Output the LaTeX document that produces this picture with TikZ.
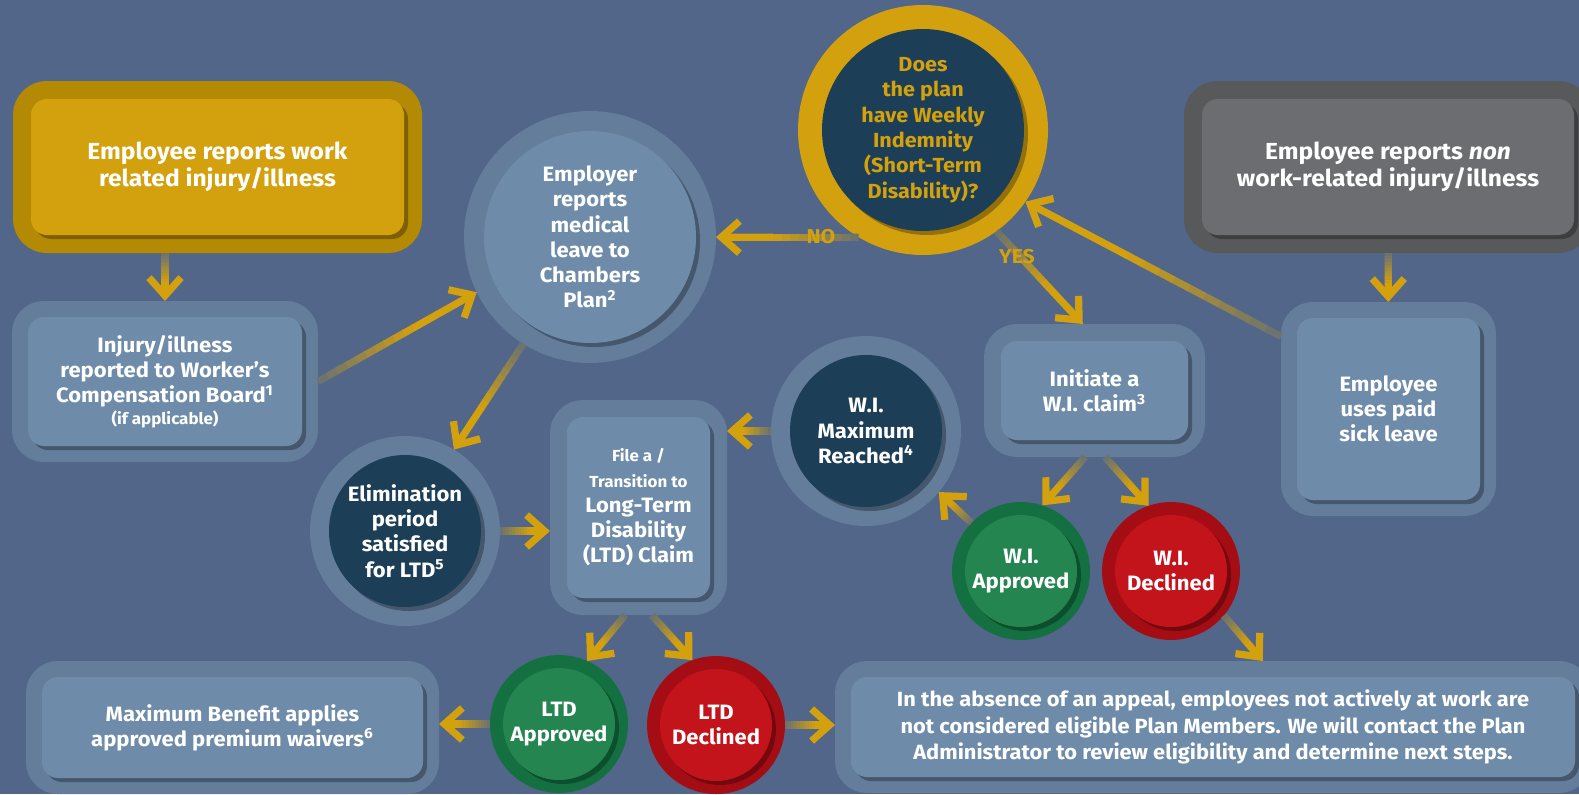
\documentclass[tikz,border=0pt]{standalone}
\usepackage{fontspec}
\setmainfont{Fira Sans}[FakeStretch=1.06]
\usetikzlibrary{arrows.meta,calc,shadows}

\definecolor{bgblue}{HTML}{516689}
\definecolor{haloblue}{HTML}{637D9B}
\definecolor{boxblue}{HTML}{6E8CAA}
\definecolor{navy}{HTML}{1C3E56}
\definecolor{gold}{HTML}{D4A10E}
\definecolor{golddark}{HTML}{B48A05}
\definecolor{greybox}{HTML}{6C6D71}
\definecolor{greydark}{HTML}{58595B}
\definecolor{okgreen}{HTML}{258550}
\definecolor{okgreendark}{HTML}{147040}
\definecolor{nored}{HTML}{C3141C}
\definecolor{noreddark}{HTML}{A50D15}

\newcommand{\diagbody}{\fontsize{10.4}{12.6}\selectfont\bfseries}
\newcommand{\diaghead}{\fontsize{11.6}{13.5}\selectfont\bfseries}
\newcommand{\diagnote}{\fontsize{10.3}{13.2}\selectfont\bfseries}
\newcommand{\diagq}{\fontsize{10.2}{12.7}\selectfont\bfseries}
\newcommand{\diagsmall}{\fontsize{8}{10}\selectfont\bfseries}

\tikzset{
  halo/.style 2 args={preaction={draw=#1, line width=#2}, outer sep=#2/2},
}
\tikzstyle{disc}=[circle, inner sep=0pt, align=center, text=white, font=\diagbody]
\tikzstyle{panel}=[rectangle, rounded corners=8pt, inner sep=0pt, align=center, text=white, font=\diagbody]
\tikzstyle{lift}=[drop shadow={shadow xshift=2pt, shadow yshift=-2pt, opacity=.3, fill=black}]
\tikzstyle{shaft}=[draw=gold, line width=3.6pt]
\tikzstyle{tag}=[text=gold, font=\fontsize{10}{12}\selectfont\bfseries]

% gold arrow whose tail fades into the background
\newcommand{\flowarrow}[2]{%
  \path (#1) -- coordinate[pos=0] (ft) coordinate[pos=1] (fh) (#2);
  \foreach \k in {0,...,9}{%
    \pgfmathtruncatemacro{\mixpct}{22+8*\k}%
    \draw[shaft, draw=gold!\mixpct!bgblue] ($(ft)!{\k*0.06}!(fh)$) -- ($(ft)!{\k*0.06+0.065}!(fh)$);
  }%
  \draw[shaft, -{Straight Barb[length=9pt,width=16pt]}] ($(ft)!0.6!(fh)$) -- (fh);
}

\begin{document}
\begin{tikzpicture}[x=0.5pt,y=-0.5pt]

  \useasboundingbox (0,0) rectangle (1579,794);
  \fill[bgblue] (0,0) rectangle (1579,794);

  % top row
  \node[panel, fill=gold, halo={golddark}{18pt}, lift, minimum width=186.5pt, minimum height=68pt, font=\diaghead] (work) at (217.5,167) {Employee reports work\\related injury/illness};
  \node[panel, fill=greybox, halo={greydark}{18pt}, lift, minimum width=186pt, minimum height=68pt, font=\diaghead] (nonwork) at (1388,167) {Employee reports \textit{non}\\work-related injury/illness};
  \node[disc, fill=boxblue, halo={haloblue}{20pt}, lift, minimum size=106pt] (employer) at (590,237) {Employer\\reports\\medical\\leave to\\Chambers\\Plan\textsuperscript{2}};
  \node[disc, fill=navy, halo={gold}{24pt}, lift, minimum size=101pt, text=gold, font=\diagq] (does) at (923,130) {Does\\the plan\\have Weekly\\Indemnity\\(Short-Term\\Disability)?};

  % middle
  \node[panel, fill=boxblue, halo={haloblue}{16pt}, lift, minimum width=137pt, minimum height=64.5pt] (injury) at (165,381.5) {Injury/illness\\reported to Worker’s\\Compensation Board\textsuperscript{1}\\[-2pt]{\diagsmall (if applicable)}};
  \node[panel, fill=boxblue, halo={haloblue}{17pt}, lift, minimum width=93.5pt, minimum height=49.5pt] (initiate) at (1094.5,390.5) {Initiate a\\W.I. claim\textsuperscript{3}};
  \node[panel, fill=boxblue, halo={haloblue}{16pt}, lift, minimum width=91.5pt, minimum height=91pt] (sick) at (1388.5,409) {Employee\\uses paid\\sick leave};
  \node[disc, fill=navy, halo={haloblue}{19pt}, lift, minimum size=76pt] (wimax) at (866,431) {W.I.\\Maximum\\Reached\textsuperscript{4}};
  \node[panel, fill=boxblue, halo={haloblue}{17pt}, lift, minimum width=71.5pt, minimum height=90.5pt] (file) at (638.5,507.5) {{\diagsmall File a /}\\{\diagsmall Transition to}\\Long-Term\\Disability\\(LTD) Claim};
  \node[disc, fill=navy, halo={haloblue}{19pt}, lift, minimum size=76pt] (elim) at (405,531) {Elimination\\period\\satisfied\\for LTD\textsuperscript{5}};
  \node[disc, fill=okgreen, halo={okgreendark}{13pt}, lift, minimum size=56pt] (wiapp) at (1021,571) {W.I.\\Approved};
  \node[disc, fill=nored, halo={noreddark}{13pt}, lift, minimum size=56pt] (widec) at (1171,571) {W.I.\\Declined};

  % bottom row
  \node[disc, fill=okgreen, halo={okgreendark}{13pt}, lift, minimum size=56pt] (ltdapp) at (559,724) {LTD\\Approved};
  \node[disc, fill=nored, halo={noreddark}{13pt}, lift, minimum size=56pt] (ltddec) at (716,725) {LTD\\Declined};
  \node[panel, fill=boxblue, halo={haloblue}{16pt}, lift, minimum width=190.5pt, minimum height=50.5pt] (maxben) at (232.5,727.5) {Maximum Benefit applies\\approved premium waivers\textsuperscript{6}};
  \node[panel, fill=boxblue, halo={haloblue}{16pt}, lift, minimum width=362pt, minimum height=50pt, font=\diagnote] (absence) at (1213,727) {In the absence of an appeal, employees not actively at work are\\not considered eligible Plan Members. We will contact the Plan\\Administrator to review eligibility and determine next steps.};

  % flows
  \flowarrow{work.south -| injury.north}{injury.north}
  \flowarrow{injury.east}{employer.206}
  \flowarrow{employer.238}{elim.59}
  \flowarrow{elim.east}{elim.east -| file.west}
  \flowarrow{does.239}{does.239 -| employer.east}
  \flowarrow{does.306}{initiate.100}
  \flowarrow{sick.146}{does.325}
  \flowarrow{nonwork}{sick}
  \flowarrow{initiate.262}{wiapp.72}
  \flowarrow{initiate.279}{widec.109}
  \flowarrow{wiapp.136}{wimax.320}
  \flowarrow{wimax.west}{wimax.west -| file.east}
  \flowarrow{widec.320}{absence.53}
  \flowarrow{file.263}{ltdapp.66}
  \flowarrow{file.277}{ltddec.110}
  \flowarrow{ltdapp.west}{ltdapp.west -| maxben.east}
  \flowarrow{ltddec.east}{ltddec.east -| absence.west}

  \node[tag] (no) at (821,237) {NO};
  \node[tag] (yes) at (1017,257) {YES};

\end{tikzpicture}
\end{document}
